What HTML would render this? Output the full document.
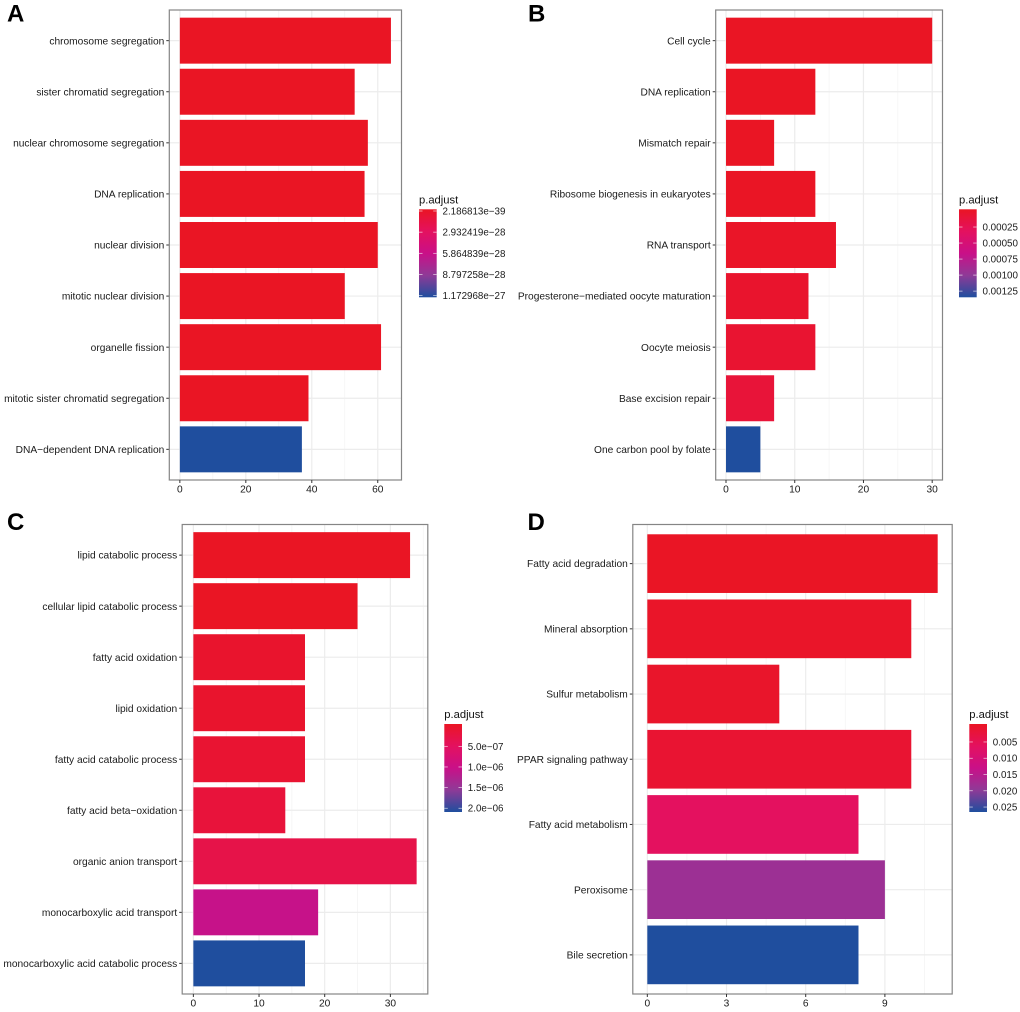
<!DOCTYPE html>
<html lang="en">
<head>
<meta charset="utf-8">
<title>Enrichment bar charts</title>
<style>
html,body{margin:0;padding:0;background:#fff;width:1020px;height:1012px;overflow:hidden}
svg{display:block}
text{font-family:"Liberation Sans",sans-serif}
</style>
</head>
<body>
<svg id="figure" xmlns="http://www.w3.org/2000/svg" width="1020" height="1012" viewBox="0 0 1020 1012"></svg>
<script>
// Panel A data
const aCategories = ["chromosome segregation","sister chromatid segregation","nuclear chromosome segregation","DNA replication","nuclear division","mitotic nuclear division","organelle fission","mitotic sister chromatid segregation","DNA−dependent DNA replication"];
const aCounts = [64,53,57,56,60,50,61,39,37];
const aPAdjust = [2.186813e-39,1e-38,1e-38,2e-36,1e-36,1e-35,1e-35,3e-33,1.172968e-27];
const aXTicks = [0,20,40,60];
const aLegendTicks = [2.186813e-39,2.932419e-28,5.864839e-28,8.797258e-28,1.172968e-27];
const aLegendLabels = ["2.186813e−39","2.932419e−28","5.864839e−28","8.797258e−28","1.172968e−27"];

// Panel B data
const bCategories = ["Cell cycle","DNA replication","Mismatch repair","Ribosome biogenesis in eukaryotes","RNA transport","Progesterone−mediated oocyte maturation","Oocyte meiosis","Base excision repair","One carbon pool by folate"];
const bCounts = [30,13,7,13,16,12,13,7,5];
const bPAdjust = [1e-20,1e-7,1e-6,5e-6,2e-5,5e-5,7e-5,0.00012,0.00132];
const bXTicks = [0,10,20,30];
const bLegendTicks = [0.00025,0.0005,0.00075,0.001,0.00125];
const bLegendLabels = ["0.00025","0.00050","0.00075","0.00100","0.00125"];

// Panel C data
const cCategories = ["lipid catabolic process","cellular lipid catabolic process","fatty acid oxidation","lipid oxidation","fatty acid catabolic process","fatty acid beta−oxidation","organic anion transport","monocarboxylic acid transport","monocarboxylic acid catabolic process"];
const cCounts = [33,25,17,17,17,14,34,19,17];
const cPAdjust = [1e-11,1e-9,8e-8,8e-8,1.2e-7,2e-7,3.2e-7,1.05e-6,2.05e-6];
const cXTicks = [0,10,20,30];
const cLegendTicks = [5e-7,1e-6,1.5e-6,2e-6];
const cLegendLabels = ["5.0e−07","1.0e−06","1.5e−06","2.0e−06"];

// Panel D data
const dCategories = ["Fatty acid degradation","Mineral absorption","Sulfur metabolism","PPAR signaling pathway","Fatty acid metabolism","Peroxisome","Bile secretion"];
const dCounts = [11,10,5,10,8,9,8];
const dPAdjust = [0.0001,0.0005,0.0008,0.0015,0.0065,0.018,0.026];
const dXTicks = [0,3,6,9];
const dLegendTicks = [0.005,0.01,0.015,0.02,0.025];
const dLegendLabels = ["0.005","0.010","0.015","0.020","0.025"];

const NS = "http://www.w3.org/2000/svg";
const root = document.getElementById("figure");
const gradientStops = [[0,[234,21,36]],[0.25,[228,17,95]],[0.5,[201,16,136]],[0.75,[143,58,151]],[1,[31,78,158]]];

function colorAt(t){
  t = Math.max(0,Math.min(1,t));
  for(let i=1;i<gradientStops.length;i++){
    const a = gradientStops[i-1], b = gradientStops[i];
    if(t<=b[0]){
      const f = (t-a[0])/(b[0]-a[0]);
      return "rgb("+[0,1,2].map(k=>Math.round(a[1][k]+(b[1][k]-a[1][k])*f)).join(",")+")";
    }
  }
  return "rgb(31,78,158)";
}

function make(parent,tag,props,content){
  const el = document.createElementNS(NS,tag);
  for(const k in props){ el.setAttribute(k,props[k]); }
  if(content!==undefined){ el.textContent = content; }
  parent.appendChild(el);
  return el;
}

const defs = make(root,"defs",{});
const grad = make(defs,"linearGradient",{id:"legend-gradient",x1:0,y1:0,x2:0,y2:1});
gradientStops.forEach(function(s){
  make(grad,"stop",{offset:s[0],"stop-color":colorAt(s[0])});
});

function drawPanel(p){
  const g = make(root,"g",{});
  
  

  const letter = make(g,"text",{x:p.letterX,y:p.letterY,"font-size":24,"font-weight":"bold",fill:"#000"},p.id);
  
  

  const w = p.right-p.left, h = p.bottom-p.top;
  const unit = w/(p.xMax*1.1);
  const xScale = function(v){ return p.left + p.xMax*0.05*unit + v*unit; };
  const step = h/(p.categories.length-1+1.2);
  const yScale = function(i){ return p.top + (0.6+i)*step; };

  // minor vertical gridlines
  for(let i=0;i<p.xTicks.length;i++){
    const tickGap = p.xTicks[1]-p.xTicks[0];
    const v = p.xTicks[i]+tickGap/2;
    if(xScale(v)<p.right){
      const minor = make(g,"line",{x1:xScale(v),x2:xScale(v),y1:p.top,y2:p.bottom,stroke:"#f3f3f3","stroke-width":0.7});
      
      
    }
  }
  // major vertical gridlines
  p.xTicks.forEach(function(v){
    const major = make(g,"line",{x1:xScale(v),x2:xScale(v),y1:p.top,y2:p.bottom,stroke:"#ececec","stroke-width":1.2});
    
    
  });
  // horizontal gridlines, tick marks and labels
  p.categories.forEach(function(name,i){
    const y = yScale(i);
    const gl = make(g,"line",{x1:p.left,x2:p.right,y1:y,y2:y,stroke:"#ececec","stroke-width":1.2});
    
    
    const tk = make(g,"line",{x1:p.left-3,x2:p.left,y1:y,y2:y,stroke:"#333","stroke-width":1});
    
    
    const lb = make(g,"text",{x:p.left-5,y:y+3.6,"text-anchor":"end","font-size":10.2,fill:"#1a1a1a"},name);
    
    
  });
  // bars
  p.categories.forEach(function(name,i){
    const y = yScale(i);
    const bh = step*0.9;
    const bar = make(g,"rect",{x:xScale(0),y:y-bh/2,width:xScale(p.counts[i])-xScale(0),height:bh,fill:colorAt(p.pAdjust[i]/p.pLimit)});
    
    
  });
  // panel border
  const border = make(g,"rect",{x:p.left,y:p.top,width:w,height:h,fill:"none",stroke:"#858585","stroke-width":1.2});
  
  
  // x ticks
  p.xTicks.forEach(function(v){
    const x = xScale(v);
    const tk = make(g,"line",{x1:x,x2:x,y1:p.bottom,y2:p.bottom+3,stroke:"#333","stroke-width":1});
    
    
    const lb = make(g,"text",{x:x,y:p.bottom+12.5,"text-anchor":"middle","font-size":10.2,fill:"#1a1a1a"},String(v));
    
    
  });
  // legend
  const legend = make(g,"g",{});
  
  
  const title = make(legend,"text",{x:p.legendX,y:p.legendTop-6,"font-size":11.2,fill:"#111"},"p.adjust");
  
  
  const cbar = make(legend,"rect",{x:p.legendX,y:p.legendTop,width:17.7,height:88,fill:"url(#legend-gradient)"});
  
  
  const legendY = function(v){ return p.legendTop+1.7 + (v/p.pLimit)*84.6; };
  p.legendTicks.forEach(function(v,i){
    const y = legendY(v);
    const t1 = make(legend,"line",{x1:p.legendX,x2:p.legendX+3.5,y1:y,y2:y,stroke:"#fff","stroke-width":0.7,"stroke-opacity":0.8});
    
    
    const t2 = make(legend,"line",{x1:p.legendX+14.2,x2:p.legendX+17.7,y1:y,y2:y,stroke:"#fff","stroke-width":0.7,"stroke-opacity":0.8});
    
    
    const lb = make(legend,"text",{x:p.legendX+23.5,y:y+3.5,"font-size":9.8,fill:"#1a1a1a"},p.legendLabels[i]);
    
    
  });
}

drawPanel({id:"A",letterX:7,letterY:21.7,left:169.3,right:401.5,top:10,bottom:480,xMax:64,
  categories:aCategories,counts:aCounts,pAdjust:aPAdjust,xTicks:aXTicks,
  legendTicks:aLegendTicks,legendLabels:aLegendLabels,pLimit:1.172968e-27,legendX:419,legendTop:209.3});
drawPanel({id:"B",letterX:528,letterY:21.5,left:715.7,right:942.5,top:10,bottom:480,xMax:30,
  categories:bCategories,counts:bCounts,pAdjust:bPAdjust,xTicks:bXTicks,
  legendTicks:bLegendTicks,legendLabels:bLegendLabels,pLimit:0.00132,legendX:959,legendTop:209.3});
drawPanel({id:"C",letterX:7,letterY:530,left:182.2,right:427.8,top:524.5,bottom:994,xMax:34,
  categories:cCategories,counts:cCounts,pAdjust:cPAdjust,xTicks:cXTicks,
  legendTicks:cLegendTicks,legendLabels:cLegendLabels,pLimit:2.05e-6,legendX:444.3,legendTop:724});
drawPanel({id:"D",letterX:527.5,letterY:530,left:632.8,right:952.2,top:524.5,bottom:994,xMax:11,
  categories:dCategories,counts:dCounts,pAdjust:dPAdjust,xTicks:dXTicks,
  legendTicks:dLegendTicks,legendLabels:dLegendLabels,pLimit:0.026,legendX:969.3,legendTop:724});
</script>
</body>
</html>
